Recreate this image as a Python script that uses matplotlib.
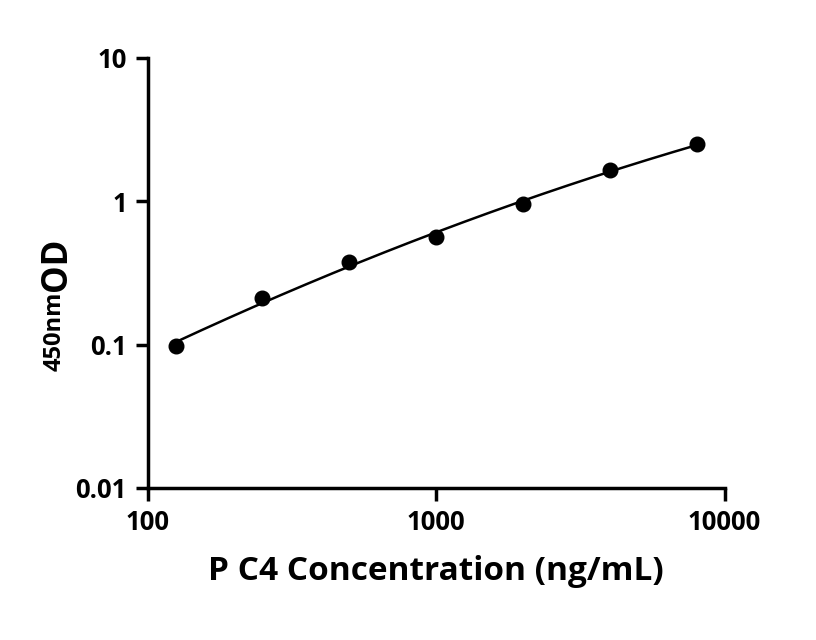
import numpy as np
import matplotlib
matplotlib.use("Agg")
import matplotlib.pyplot as plt

plt.rcParams["font.family"] = "Open Sans"
plt.rcParams["font.weight"] = "bold"

# données
conc = [125, 250, 500, 1000, 2000, 4000, 8000]
od = [0.098, 0.21, 0.38, 0.56, 0.96, 1.65, 2.5]
xticks = [100, 1000, 10000]
yticks = [0.01, 0.1, 1, 10]

fig = plt.figure(figsize=(8.16, 6.40), dpi=100)
ax = fig.add_axes([0.181, 0.2375, 0.707, 0.672])

# courbe ajustée (quadratique en log-log)
lx, ly = np.log10(conc), np.log10(od)
coef = np.polyfit(lx, ly, 2)
xs = np.linspace(lx[0], lx[-1], 200)
ax.plot(10**xs, 10**np.polyval(coef, xs), color="black", lw=1.8)
ax.plot(conc, od, "o", color="black", ms=10.5)

ax.set_xscale("log")
ax.set_yscale("log")
ax.set_xlim(100, 10000)
ax.set_ylim(0.01, 10)
ax.set_xticks(xticks)
ax.set_xticklabels([str(t) for t in xticks])
ax.set_yticks(yticks)
ax.set_yticklabels(["0.01", "0.1", "1", "10"])
ax.minorticks_off()
for s in ["top", "right"]:
    ax.spines[s].set_visible(False)
for s in ["left", "bottom"]:
    ax.spines[s].set_linewidth(2.5)
ax.tick_params(width=2.5, length=9, labelsize=18.5, pad=6)
for lab in ax.get_xticklabels() + ax.get_yticklabels():
    lab.set_fontweight("bold")

ax.set_xlabel("P C4 Concentration (ng/mL)", fontsize=24, fontweight="bold", labelpad=14)

# étiquette Y : "OD" + indice plus petit sur la même ligne de base
fig.text(0.048, 0.545, "OD", rotation=90, fontsize=25, fontweight="bold",
         ha="left", va="bottom")
fig.text(0.052, 0.545, "450nm", rotation=90, fontsize=17, fontweight="bold",
         ha="left", va="top")

fig.savefig("out.png")
